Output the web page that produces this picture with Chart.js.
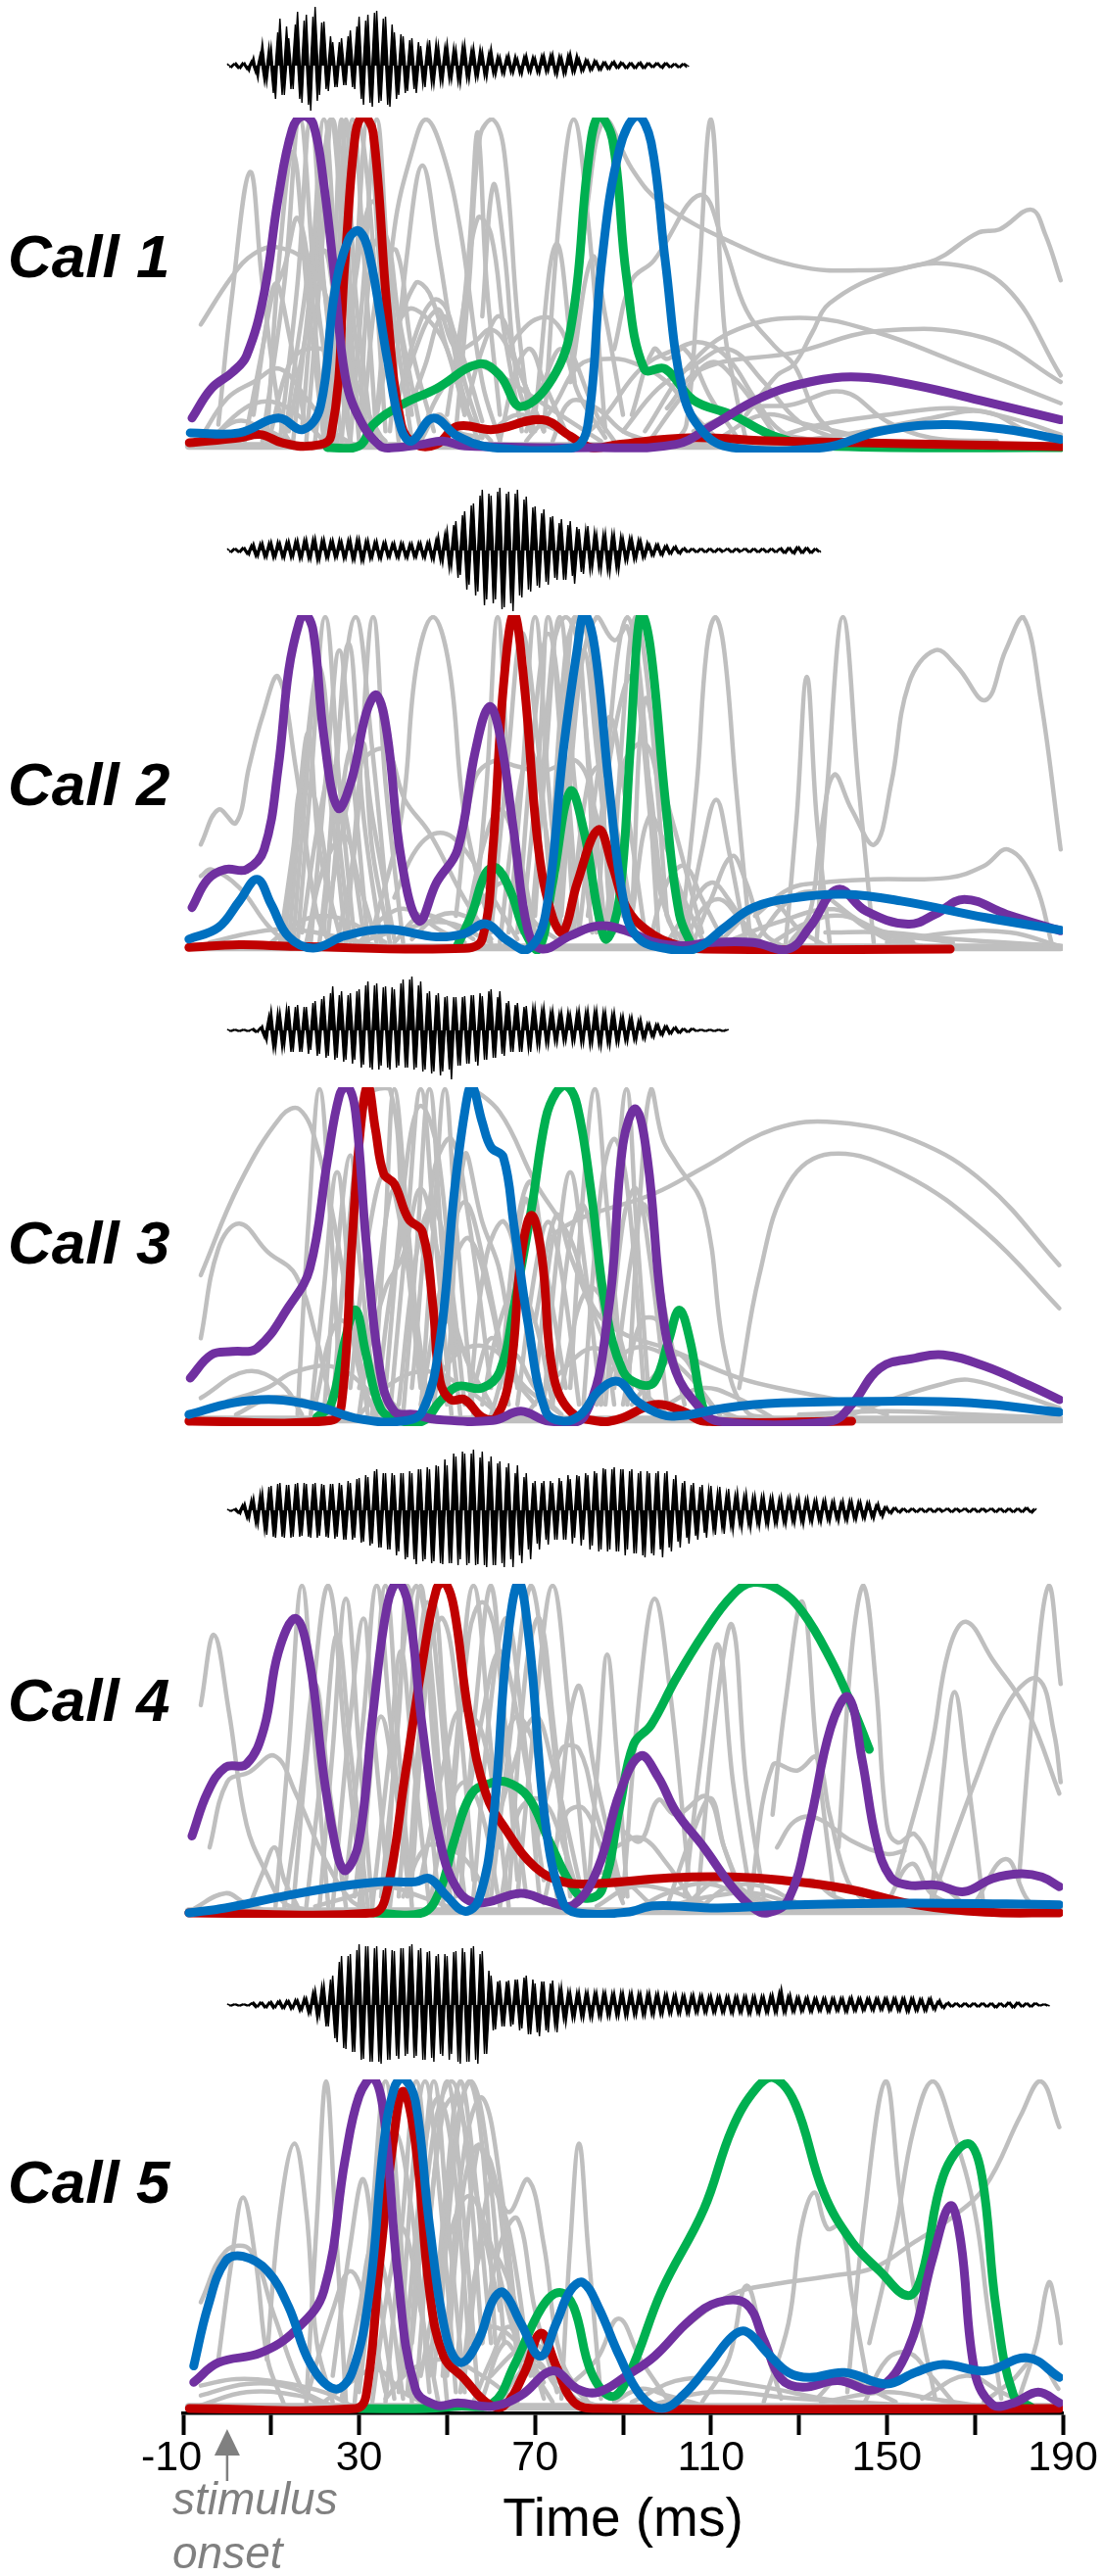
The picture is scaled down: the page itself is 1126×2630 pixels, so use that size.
<!DOCTYPE html>
<html><head><meta charset="utf-8">
<script src="https://cdn.jsdelivr.net/npm/chart.js@4/dist/chart.umd.js"></script>
<style>
html,body{margin:0;padding:0;background:#fff;width:1126px;height:2630px;overflow:hidden;font-family:"Liberation Sans",Arial,sans-serif}
canvas{position:absolute;left:0}
.t{position:absolute;line-height:1;white-space:nowrap}
.call{font-weight:bold;font-style:italic;font-size:62px;color:#000;left:8px}
.onset{font-style:italic;font-size:46px;color:#808080;left:176px}
</style></head><body>
<div id="root"></div>
<script>
const callNames=['Call 1','Call 2','Call 3','Call 4','Call 5'];
const xTickLabels=['-10  ','','30','','70','','110','','150','','190'];
const xTitle='Time (ms)';
const onsetLines=['stimulus','onset'];
const onsetTime=0;

const wave1=[2,-2,3,-3,3,-6,9,-14,24,-18,20,-34,48,-30,28,-24,55,-38,52,-46,60,-30,45,-26,24,-22,28,-20,36,-24,50,-40,52,-42,56,-36,50,-42,34,-30,30,-26,28,-28,20,-22,26,-20,22,-18,24,-16,18,-20,23,-16,20,-13,16,-14,19,-11,10,-10,12,-9,8,-10,12,-8,9,-9,12,-7,13,-11,10,-9,14,-8,8,-6,6,-5,5,-5,4,-4,5,-3,3,-3,3,-3,4,-3,3,-2,3,-3,3,-2,2,-2,2,-1];
const wave1b=[-2,2,-3,3,-4,5,-8,12,-18,20,-28,34,-30,40,-24,42,-34,46,-40,50,-36,44,-24,30,-22,24,-20,30,-22,40,-34,46,-38,54,-38,48,-40,42,-34,32,-28,26,-24,24,-20,22,-20,24,-18,20,-16,20,-18,21,-15,17,-14,18,-12,14,-10,11,-9,10,-8,11,-9,10,-7,10,-8,11,-8,12,-9,11,-10,12,-8,12,-7,7,-6,6,-5,4,-4,4,-3,4,-3,3,-3,3,-3,3,-2,3,-2,3,-2,2,-2,2,-2];
const wave2=[2,-2,2,-2,3,-5,8,-7,9,-8,10,-8,9,-9,11,-8,12,-9,13,-10,14,-11,13,-9,12,-8,11,-9,13,-11,13,-12,12,-9,11,-10,10,-8,9,-9,8,-9,8,-8,9,-9,10,-11,16,-14,22,-18,30,-25,40,-35,48,-42,62,-50,56,-50,64,-58,60,-62,62,-48,55,-42,45,-38,42,-35,35,-30,32,-30,30,-34,22,-24,25,-20,18,-22,19,-24,18,-22,14,-12,14,-10,12,-8,7,-6,7,-6,6,-4,5,-4,3,-2,2,-2,2,-2,2,-2,2,-1,2,-2,2,-1,2,-2,2,-2,2,-2,2,-2,3,-3,3,-4,4,-3,3,-3,2,-2];
const wave2b=[-2,2,-2,3,-4,6,-7,8,-8,9,-9,10,-8,10,-9,11,-10,12,-10,13,-12,12,-9,11,-9,12,-10,12,-11,13,-12,11,-10,10,-9,9,-8,8,-8,9,-8,8,-8,9,-8,9,-10,12,-12,18,-20,26,-28,36,-40,46,-46,56,-56,58,-54,60,-60,58,-54,58,-46,52,-40,44,-36,38,-32,34,-28,28,-30,26,-26,24,-22,22,-22,20,-20,18,-22,18,-20,16,-12,14,-11,12,-9,9,-6,7,-5,5,-4,4,-3,2,-2,2,-2,2,-2,2,-2,2,-2,2,-2,2,-2,2,-2,2,-2,2,-2,2,-2,2,-3,3,-3,4,-3,3,-3,2,-2];
const wave3=[1,-1,1,-1,1,-1,2,-2,5,-12,22,-20,20,-18,25,-22,26,-22,24,-20,30,-24,35,-26,45,-28,40,-30,38,-30,42,-35,50,-40,48,-36,45,-40,42,-36,52,-38,55,-38,50,-40,40,-42,38,-42,35,-50,34,-36,35,-34,36,-36,35,-30,42,-28,40,-26,30,-22,28,-22,25,-22,24,-18,25,-16,22,-14,20,-12,18,-12,22,-14,22,-15,22,-18,20,-17,20,-14,16,-13,15,-12,13,-10,8,-8,7,-6,5,-4,4,-3,2,-2,2,-1,1,-1,1,-1,1,-1,1];
const wave3b=[-1,1,-1,1,-1,1,-2,3,-8,16,-20,20,-20,23,-22,24,-22,24,-24,28,-26,32,-28,38,-30,36,-32,36,-34,40,-38,46,-38,46,-40,44,-38,44,-38,48,-38,52,-40,46,-42,38,-44,36,-46,34,-40,34,-36,34,-34,36,-32,38,-30,40,-28,34,-24,28,-22,26,-22,24,-20,24,-17,22,-15,20,-13,18,-13,20,-14,20,-15,20,-17,21,-16,20,-15,18,-14,15,-12,14,-11,11,-9,8,-7,7,-5,5,-4,3,-3,2,-2,2,-1,1,-1,1,-1,1,-1,1];
const wave4=[1,-1,2,-4,8,-10,14,-16,20,-25,25,-28,28,-28,26,-27,28,-26,27,-28,28,-26,26,-28,27,-27,26,-30,28,-28,33,-32,34,-34,42,-38,38,-40,36,-42,38,-48,38,-55,42,-50,42,-52,45,-55,46,-54,55,-50,58,-54,62,-55,60,-58,55,-56,50,-58,48,-58,46,-54,38,-50,30,-40,30,-35,28,-30,30,-30,32,-28,35,-30,36,-36,38,-40,42,-40,44,-42,42,-40,42,-44,40,-48,38,-46,40,-48,40,-42,36,-38,30,-34,28,-30,26,-28,25,-25,24,-24,22,-22,20,-20,19,-20,16,-18,16,-17,15,-15,15,-16,14,-15,14,-16,13,-14,12,-14,12,-13,11,-13,11,-12,11,-11,10,-10,9,-10,8,-8,4,-4,3,-3,2,-2,2,-2,2,-2,2,-2,2,-1,2,-2,2,-1,2,-2,2,-2,2,-1,2,-2,2,-2,2,-2,2,-2,3,-3,2];
const wave4b=[-1,1,-3,6,-9,12,-15,18,-22,24,-27,27,-27,26,-28,27,-27,28,-27,27,-28,27,-27,27,-29,28,-30,30,-30,32,-33,36,-36,40,-38,38,-40,38,-46,38,-50,40,-50,42,-52,44,-54,46,-54,52,-54,58,-56,60,-56,58,-56,54,-56,50,-56,48,-54,44,-50,38,-46,34,-40,28,-34,28,-30,30,-30,33,-30,36,-34,36,-36,38,-40,40,-42,43,-42,42,-42,42,-46,40,-44,38,-46,40,-44,38,-40,38,-38,32,-32,28,-28,26,-26,24,-23,22,-21,20,-19,18,-18,17,-16,16,-16,15,-15,15,-15,14,-15,13,-14,13,-13,12,-13,12,-12,11,-12,11,-11,10,-10,9,-11,11,-10,10,-9,9,-8,6,-5,4,-3,3,-2,2,-2,2,-2,2,-2,2,-2,2,-2,2,-2,2,-2,2,-2,2,-2,2,-2,2,-2,2,-2,2,-2,2,-2,3,-2,2];
const wave5=[1,-1,1,-1,1,-1,3,-2,3,-3,4,-3,5,-4,5,-4,6,-6,8,-9,17,-12,22,-22,30,-38,50,-45,52,-48,62,-55,60,-58,60,-60,58,-56,55,-55,58,-50,62,-52,58,-56,55,-58,52,-52,50,-50,55,-60,54,-58,60,-60,55,-50,30,-25,25,-22,25,-20,26,-24,30,-30,22,-32,24,-28,25,-28,20,-20,15,-15,15,-15,14,-15,14,-14,14,-13,14,-13,14,-13,14,-12,13,-12,14,-12,13,-11,12,-10,12,-10,11,-10,12,-9,11,-9,11,-9,10,-9,10,-10,10,-9,10,-10,10,-10,10,-9,12,-9,18,-9,12,-8,9,-7,9,-8,8,-7,8,-8,8,-7,8,-8,9,-7,8,-6,8,-7,8,-6,8,-6,8,-7,8,-8,8,-7,7,-7,8,-6,6,-4,3,-2,2,-2,2,-2,2,-2,2,-2,2,-3,2,-2,3,-3,3,-2,2,-2,2,-1,1,-1];
const wave5b=[-1,1,-1,1,-1,2,-3,3,-3,3,-4,4,-4,5,-5,6,-7,8,-10,14,-16,20,-22,26,-34,44,-44,50,-48,56,-56,60,-58,58,-58,56,-56,56,-52,58,-52,60,-54,56,-56,54,-54,50,-50,52,-56,54,-58,58,-58,58,-56,52,-50,35,-26,24,-22,24,-22,26,-26,28,-30,26,-28,24,-26,22,-22,18,-16,15,-15,14,-14,14,-14,14,-13,14,-13,13,-13,14,-13,13,-12,13,-12,13,-11,12,-11,12,-10,11,-10,11,-10,11,-9,11,-9,10,-9,10,-9,10,-9,10,-9,10,-10,10,-9,10,-9,11,-9,14,-9,10,-8,9,-8,8,-8,8,-7,8,-8,8,-7,8,-8,8,-7,8,-7,8,-6,8,-6,8,-7,8,-7,8,-8,8,-7,7,-7,7,-5,4,-3,2,-2,2,-2,2,-2,2,-2,2,-2,2,-3,2,-2,3,-3,3,-2,2,-2,2,-1,1,-1];

const call1Purple=[-8,.09,-3.6,.18,1.2,.23,4.4,.28,8.4,.47,11.6,.76,14.8,.97,17.2,1.01,19.6,.985,22,.8,24.4,.52,26.8,.22,30,.09,34.8,.005,38,0,44.4,.01,49,.02,54,.005,84.4,0,102,.01,110,.065,121,.15,132.4,.2,143.6,.215,156.4,.19,172.4,.14,189.5,.085];
const call1Red=[-8.6,.015,2.8,.03,7.6,.04,12.4,.015,18.8,.005,23.6,.035,26.8,.57,29.2,.96,31,1.01,33.2,.96,36.4,.42,39.6,.07,42.8,.01,47.6,.01,52.4,.065,60.4,.055,71.6,.085,78,.035,82.8,0,89,.01,105,.03,124.4,.02,189.5,.003];
const call1Green=[22.8,0,30,.005,33.2,.07,39.6,.13,47.6,.18,57.2,.255,62,.22,66.8,.125,74.8,.23,78.8,.42,82,.86,84.4,1.01,87.6,.94,90.8,.52,94.8,.24,99.6,.24,106,.145,114.8,.1,124.4,.035,135.6,.005,189.5,0];
const call1Blue=[-8.4,.045,2.8,.045,11.6,.09,17.2,.055,21.2,.125,24.4,.47,27.6,.635,30,.66,32.4,.585,36.4,.27,39.6,.055,42,.02,46.8,.09,52.4,.035,60.4,0,78.8,0,82,.07,85.2,.57,89.2,.91,93.2,1.01,96.4,.93,99.6,.57,103.6,.17,108.4,.045,114.8,0,135.6,0,148.4,.05,162.8,.07,177.2,.055,189.5,.025];
const call1Gray=[
[-6,.375,1,.52,6,.59,11.6,.61,18.8,.555,25,.37,31.6,.12,36.4,0],
[-2,.07,1,.45,5.2,.84,8,.5,12.4,.07,15,0],
[78,.2,82,.75,86,1,92,.85,98.8,.745,114.8,.625,129,.555,143.6,.54,159.6,.565,170.8,.655,175.6,.665,182.8,.725,186,.65,189.5,.51],
[118,.1,125,.22,129,.255,133,.35,137,.44,150,.53,164,.56,177,.49,189.5,.22],
[95,.05,105,.25,116,.36,132,.395,148,.35,164,.27,189.5,.135],
[100,.12,108,.24,129,.29,148,.355,172,.335,189.5,.2],
[102,.02,104.4,.07,107,.47,110,1,113,.37,115.6,.17,118,.02],
[88,.3,92,.51,97,.57,107.6,.77,113,.615,118,.42,124.4,.31,129,.25,134,.1,140,.02],
[34,.1,38,.665,42,.9,45.2,1,49,.9,53,.665,58,.2,62,.02],
[37,.05,41,.6,44.4,.86,48,.6,53,.2,57,.02],
[52,.05,55,.5,57.5,.95,60.4,1,63,.9,66,.4,69,.05],
[52,.2,55,.6,57,.96,59,.5,62,.1],
[58,.4,60.5,.8,63,.6,66,.2,70,.05],
[72,.05,75.5,.7,78.8,1,82,.7,86,.05],
[70,.1,74.8,.62,79,.2],
[78,.2,83,.58,86,.4,90,.1],
[64,.3,66,.34,70,.39,74,.39,78,.3,84,.1,88,.02],
[40,.2,47.6,.42,52,.3,56,.32,60,.36,64,.3,72,.05],
[36,.25,42.8,.5,46,.47,50,.3,55,.1,60,.02],
[6,.1,10,.45,13,.55,16,.7,19,.5,22,.1,25,0],
[8,.02,13,.5,16.5,1,20,.5,25,.02],
[12,.02,16,.5,19,1,22,.5,26,.02],
[15,.02,19,.5,22,1,25,.5,28,.02],
[18,.02,21,.5,24,1,27,.5,30,.02],
[20,.02,24,.5,26,1,28,.5,32,.02],
[22,.02,25,.5,27,1,29,.5,33,.02],
[23,.02,26,.6,28.5,1,31,.6,34,.02],
[26,.02,29,.5,32,1,35,.5,39,.02],
[28,.02,31,.5,34,1,37,.5,42,.02],
[30,.05,33,.6,36,.65,39,.4,44,.05],
[14,.05,18,.35,22,.6,25,.4,30,.1],
[10,.05,14,.25,18,.3,24,.28,30,.1,36,.02],
[-6,.03,0,.15,6,.2,12,.24,18,.15,24,.05,30,0],
[-4,.02,4,.12,10,.14,16,.1,22,.02],
[44,.05,50,.2,56,.25,62,.22,70,.15,78,.08,85,.02],
[68,.02,74,.12,80,.25,86,.27,92,.26,100,.2,106,.1,112,.02],
[80,.02,86,.1,94,.24,102,.3,108,.32,114,.27,120,.15,126,.05,134,.02],
[90,.05,98,.18,106,.25,114,.3,122,.2,130,.08,140,.02],
[106,.05,118,.12,128,.13,140,.17,150,.08,160,.03,175,.02],
[122,.02,135,.07,150,.1,165,.12,178,.09,189.5,.04],
[130,.02,145,.05,160,.09,172,.11,182,.05,189.5,.02],
[60,.05,66,.1,72,.07,80,.02],
[44,.02,48,.1,52,.05,58,.03],
[4,.02,8,.3,11,.5,14,.35,18,.05],
[9,.02,12,.6,15,.9,18,.5,22,.02],
[13,.02,17,.4,20,.62,23,.4,28,.02],
[17,.05,21,.7,23.5,1,26,.7,30,.05],
[24,.05,27,.8,29.5,1,32,.8,36,.05],
[25,.1,29,.5,33,.75,37,.55,42,.1],
[31,.1,35,.55,38.5,.6,42,.3,47,.05],
[33,.02,37,.3,41,.42,45,.4,50,.3,54,.1],
[38,.1,43,.35,47,.45,50,.42,54,.2,58,.03],
[41,.1,45,.25,49,.4,53,.3,58,.08],
[50,.1,54,.45,57,.7,60,.65,63,.35,67,.05],
[54,.1,58,.3,62,.4,66,.25,72,.05],
[62,.02,66,.25,69,.3,72,.2,78,.02],
[68,.05,72,.2,76,.3,80,.16,86,.03],
[74,.02,78,.14,84,.12,90,.05,96,.02],
[92,.1,97,.3,100,.27,104,.3,110,.15,116,.03],
[96,.02,103,.15,110,.26,116,.2,124,.05],
[112,.03,122,.1,132,.07,145,.03],
[-5,.01,2,.08,8,.06,14,.02]
];

const call2Purple=[-8,.125,-4.4,.21,-.4,.24,4.4,.24,8.4,.3,11.6,.545,14,.84,16.4,.985,17.7,1.01,19.6,.955,22,.64,25.2,.425,28.4,.515,31.6,.71,34,.765,36.4,.645,39.6,.27,43.6,.085,47.6,.2,52.4,.3,56.4,.595,59.6,.73,62,.645,65.2,.35,68.4,.055,71.6,0,78,.04,84.4,.07,90.8,.055,97.2,.02,103.6,.01,110,.02,119.6,.02,127.6,0,132.4,.065,138.8,.18,145.2,.115,154.8,.075,161,.105,167.6,.15,177.2,.105,189.5,.055];
const call2Red=[-8.7,.005,2.8,.013,15.6,.008,54,.002,58,.03,60.4,.3,62.8,.79,65.2,1.01,67.6,.79,70.8,.3,74,.095,76.4,.05,79.6,.2,84.4,.36,87.6,.25,90.8,.125,95.6,.055,102,.013,108.4,0,164.4,0];
const call2Green=[52.4,.012,55.6,.105,58.8,.23,61.2,.245,64.4,.175,67.6,.055,70.8,0,74,.2,78,.475,81.2,.35,84.4,.105,86.3,.03,89.2,.155,91.6,.595,93.2,.935,94.3,1.01,96.4,.89,99.6,.45,102.8,.105,106,0];
const call2Blue=[-8.7,.03,-2,.065,2.8,.145,6.8,.21,10,.135,14,.037,19.6,.003,26.8,.04,36.4,.06,47.6,.037,54,.047,58.8,.076,63.6,.027,68.4,0,72.4,.105,76.4,.595,79.6,.905,81.2,1.01,83.6,.905,86.8,.495,90,.155,93.2,.037,100.4,0,106.8,.003,113.2,.066,119.6,.125,129.2,.155,140.4,.165,153.2,.145,172.4,.095,189.5,.057];
const call2Gray=[
[-6,.315,-2,.42,2,.38,5,.55,8,.7,11.6,.82,15.6,.545,20.4,.105,23.6,.01],
[-6,.22,-3.6,.24,2.8,.185,9,.075,14,.01],
[16,.02,19,.5,22.3,1,25.5,.5,29,.02],
[22,.05,25,.6,29.2,1,33,.6,37,.05],
[27,.02,30,.5,33.2,1,36,.5,40,.02],
[21,.02,24,.4,27.6,.92,31,.4,35,.02],
[15,.02,18,.5,20,.75,23,.5,27,.02],
[13,.02,16,.4,18.5,.65,21,.3,26,.02],
[18,.02,22,.25,26.8,.34,30,.2,34,.02],
[24,.2,30,.55,36,.6,40.4,.45,46,.35,54,.15,60,.03],
[33,.05,39.6,.4,43,.85,46.8,1,50.5,.85,54,.4,60,.05],
[38,.155,43,.3,48.4,.35,54,.3,60.4,.155,66,.03],
[38,.02,44,.1,50,.08,56,.03],
[52,.1,56,.5,60.4,.565,66,.55,71.6,.535,79.6,.565,84,.4,90,.1],
[56,.05,59,.5,61.5,1,64,.5,67,.05],
[64,.05,67,.5,70,1,73,.5,76,.05],
[67,.05,71,.6,73,1,76,.6,79,.05],
[69,.05,72,.5,75.6,1,79,.5,83,.05],
[72,.05,76,.6,79,1,82,.6,86,.05],
[76,.1,80,.8,84,1,88,.93,91,.97,94,.7,98,.2,102,.03],
[80,.05,84,.5,87,.7,90,.5,95,.05],
[82,.1,88,.65,92,.82,96,.5,100,.1,104,.02],
[86,.05,90,.55,94.8,.62,98,.5,102,.2,106,.03],
[92,.1,95,.75,99,.5,103,.3,108,.05],
[103,.02,106.8,.5,109,.9,111,1,113,.9,115.6,.5,119,.02],
[104,.02,108,.3,111.2,.45,114,.3,118,.02],
[106,.02,110,.15,114.8,.28,118,.2,122,.05,126,.01],
[100,.02,105,.12,110,.2,114,.15,120,.02],
[127,.02,129.5,.4,131.8,.82,134,.4,137,.02],
[134,.02,136.5,.5,140,1,143.5,.5,147,.02],
[128,.02,132.4,.105,135,.35,138,.525,142,.42,147.2,.315,151,.5,155,.8,161,.9,166,.85,172.4,.75,177,.9,181,1,185,.75,189.5,.3],
[120,.1,127.6,.18,135,.2,147,.21,164,.215,172,.25,177.6,.3,183.6,.2,187.6,.01],
[120,.02,128,.15,134,.17,142,.1,150,.03,158,.01],
[136,.05,150,.05,165,.03,189,.01],
[115,.03,125,.08,138,.12,146,.06,156,.02],
[-4,.02,6,.05,14,.06,24,.04,34,.01],
[30,.02,40,.06,50,.08,60,.02],
[12,.02,15,.3,17,.5,20,.45,24,.1],
[14,.02,18,.6,21,.85,24,.5,28,.02],
[17,.05,21,.4,24,.55,27,.4,31,.05],
[19,.02,23,.6,25.5,.9,28,.6,32,.02],
[23,.05,27,.55,30,.65,33,.4,38,.03],
[25,.02,29,.3,31,.62,33,.3,37,.02],
[10,.02,16,.08,22,.1,28,.08,36,.02],
[30,.02,36,.1,41,.12,48,.06,54,.02],
[42,.03,48,.1,54,.1,60,.03],
[54,.05,58,.3,62,.42,66,.3,70,.05],
[60,.05,64,.6,67,.95,70,.7,74,.1],
[62,.02,66,.45,69,.6,72,.4,76,.02],
[66,.05,70,.7,73,.95,76,.7,80,.05],
[70,.1,74,.9,77,1,80,.9,84,.1],
[73,.1,77,.9,80,1,83,.85,87,.1],
[75,.05,78,.6,81,.9,84,.6,88,.05],
[78,.05,82,.5,85,.55,88,.4,93,.03],
[84,.05,88,.8,91,1,94,.8,98,.05],
[87,.05,91,.85,93,1,96,.75,100,.1],
[92,.1,96,.4,100,.3,103,.18,108,.03],
[96,.02,100,.2,104,.25,108,.15,113,.02],
[104,.02,108,.12,112,.15,116,.1,122,.01],
[112,.02,118,.1,124,.14,130,.06,136,.01],
[124,.02,132,.08,140,.1,150,.05,165,.02],
[150,.02,165,.05,178,.05,189,.01],
[52,.03,58,.15,64,.2,70,.08,76,.02]
];

const call3Purple=[-8.4,.13,-3.6,.2,1.2,.21,6.8,.22,14,.345,18.8,.46,22.8,.785,25.5,.98,27.3,1.01,29.2,.93,31.6,.54,34.8,.15,38,.03,42.8,.02,47.6,.005,60.4,.002,66.8,.03,73.2,0,81.2,.015,86.8,.345,90,.835,92.9,.94,95.6,.785,98.8,.345,102,.15,106.8,.05,111.6,0,137.2,0,142,.05,148.4,.16,156.4,.19,162.8,.2,172.4,.165,182,.11,189.2,.065];
const call3Red=[-8.7,0,23.6,.002,26,.05,28.4,.54,30.3,.88,32,1.01,33.7,.88,35.6,.745,38,.715,41.2,.61,44.4,.57,46.8,.345,48.4,.12,50.8,.065,54,.065,58,.012,61.2,.012,64.4,.15,66.8,.49,69.2,.62,71.6,.49,74,.15,78,.03,84.4,0,89.2,.007,97.2,.05,103.6,.03,108.4,0,142,0];
const call3Green=[20.4,.012,23.6,.05,26.8,.245,29.2,.335,31.6,.2,34.8,.04,38,.007,44.4,0,48.4,.06,52.4,.105,58,.1,62,.15,65.2,.345,69.2,.64,72.4,.91,74.8,.99,77.2,1.01,79.6,.95,82.8,.685,86,.345,90,.15,94,.11,97.2,.12,100.4,.245,102.8,.335,105.2,.245,107.6,.07,109.2,0];
const call3Blue=[-8.7,.02,1.2,.055,10.8,.065,20.4,.045,30,.007,39.6,0,44.4,.03,48.4,.245,51.6,.685,54,.93,55.6,1.01,58,.9,60,.825,62.8,.795,65.2,.59,68.4,.295,72.4,.03,76.4,0,80.4,.02,84.4,.09,88.9,.12,93.2,.06,98.8,.02,103.6,.017,113.2,.04,126,.055,148.4,.06,169.2,.055,189.2,.027];
const call3Gray=[
[-6,.44,2.8,.715,12.4,.92,16.4,.94,20.4,.83,25,.55,30,.15,34,.01],
[-6,.25,-2,.52,2.8,.595,9.2,.51,15.6,.44,20.4,.245,24,.05,27,.01],
[-6,.07,4.4,.15,12.4,.11,17,.02],
[0,.06,9,.1,15.6,.15,25.2,.16,34.8,.06,40,.01],
[2,.02,10,.07,18,.06,24,.01],
[70,.1,74,.55,76,.58,82,.62,97,.685,108.4,.765,124.4,.88,138.8,.9,156.4,.845,172.4,.715,189.2,.47],
[116.4,.1,121,.44,127.6,.715,137.2,.805,153.6,.745,172.4,.57,189.2,.34],
[16,.02,18.5,.6,21,1,23.5,.6,26,.02],
[24,.05,27,.5,32,.98,37,1,40,.6,44,.1],
[33,.02,36,.6,38,1,41,.6,45,.02],
[37,.02,41,.6,44,1,47,.6,51,.02],
[40,.02,43,.5,46,1,49,.5,53,.02],
[44,.02,47,.6,49.5,1,52,.6,56,.02],
[30,.1,36,.4,40,.5,44,.7,48,.5,54,.2,60,.05],
[44,.05,50,.5,54,.66,58,.5,64,.1],
[50,.3,55,1,62,.93,70,.72,78,.55,83,.35,89.2,.27,100.4,.217,116.4,.13,129,.09,140.4,.06,150,.02],
[64,.2,67.6,.665,71,.5,74,.15],
[70,.3,74.8,.62,78,.5,84,.3,90,.1],
[72,.05,75,.5,78,.75,81,.5,85,.05],
[78,.1,81,.7,83.6,1,86,.7,90,.1],
[85,.05,88,.6,90.8,1,93,.6,96,.05],
[91,.05,94,.7,96.4,1,99,.85,102,.78,108.4,.64,113.2,.2,118,.03,124,.01],
[88,.1,92,.5,95,.65,100,.3,104,.05],
[84,.05,90,.2,96,.22,104,.15,112,.02],
[100,.05,108,.1,116,.07,124,.01],
[142,.02,152,.07,162,.11,168.4,.125,178,.09,189.2,.04],
[130,.02,150,.03,170,.02,189,.01],
[20,.05,25,.3,30,.25,35,.1,40,.02],
[56,.1,60,.25,64,.15,70,.05],
[60,.02,65,.2,70,.1,76,.02],
[19,.02,22,.4,25,.75,28,.4,32,.02],
[22,.02,25,.5,28,.8,30,.5,34,.02],
[28,.1,32,.55,36,.75,40,.55,45,.1],
[30,.02,34,.4,38,.7,42,.4,46,.02],
[34,.05,38,.45,42,.6,46,.4,50,.05],
[36,.1,41,.8,44,.95,48,.8,52,.2],
[39,.05,43,.5,46.5,.65,50,.5,54,.05],
[42,.1,47,.75,51,.85,55,.6,60,.1],
[47,.05,51,.45,55,.55,60,.35,64,.05],
[50,.1,54,.8,58,.6,62,.45,66,.1],
[55,.05,59,.5,63,.6,67,.4,72,.05],
[58,.05,62,.3,66,.4,70,.3,74,.05],
[62,.1,66,.6,69,.72,72,.5,77,.1],
[66,.05,70,.45,73,.6,76,.45,80,.05],
[74,.05,78,.55,81,.65,84,.45,88,.05],
[76,.1,82,.4,88,.3,92,.1],
[81,.05,85,.7,88,.85,91,.7,95,.05],
[86,.05,90,.6,93,.7,96,.5,100,.05],
[90,.05,94,.3,98,.3,104,.1,110,.02],
[92,.05,98,.15,103,.2,110,.05,116,.01],
[30,.02,38,.12,46,.15,54,.1,62,.02],
[44,.02,52,.2,60,.22,68,.1,76,.02],
[68,.02,76,.15,84,.22,92,.12,100,.02]
];

const call4Purple=[-8,.235,-4.4,.37,-.4,.445,4.4,.455,8.4,.565,11.6,.795,15.6,.9,18.8,.765,22,.415,25.2,.17,27,.13,30,.22,33.2,.615,36.4,.94,38.8,1.01,41.2,.94,44.4,.565,48.4,.22,52.4,.07,57.2,.03,66.8,.06,73.2,.035,78.8,.025,84.4,.14,89.2,.365,94,.48,98,.415,102,.31,108.4,.2,114.8,.08,119.6,.015,122.8,0,127.6,.04,132.4,.27,137.2,.565,141.2,.66,144.4,.465,147.6,.22,150.8,.11,154.8,.085,161.2,.085,167.6,.065,174,.105,180.4,.12,185.2,.11,189.2,.08];
const call4Red=[-8.7,0,33.2,0,36.4,.07,40.4,.415,44.4,.765,47.6,.99,49.5,1.01,51.6,.93,54.8,.615,58.8,.365,63.6,.25,70,.14,76.4,.095,84.4,.09,100.4,.107,114.8,.11,126,.1,140.4,.075,156.4,.025,172.4,.002,189.2,0];
const call4Green=[33,0,44.4,0,48.4,.07,51.6,.22,55.6,.365,59.6,.395,63.6,.4,68.4,.355,73.2,.22,78,.09,81.2,.045,85.2,.07,89.2,.32,92.4,.515,96.4,.575,102,.715,108.4,.855,114.8,.97,119.6,1.01,125.2,.99,130.8,.92,137.2,.775,142,.635,146,.5];
const call4Blue=[-8.7,0,-.4,.015,12.4,.05,25.2,.08,34.8,.095,42.8,.095,46,.105,50,.05,54,.005,57.2,.04,60.4,.27,63.6,.815,66.3,1.01,68.8,.815,72.4,.27,76.4,.03,79.6,0,90.8,.002,97.2,.022,111.6,.015,129.2,.025,156.4,.03,189.2,.025];
const call4Gray=[
[-6,.635,-3,.85,.4,.615,4.4,.27,9,.12,13,.03,18,.01],
[-4,.2,0,.4,5,.43,10.8,.48,15.6,.365,22,.17,28,.04,32,.01],
[-8,.01,-.4,.06,4,.03,8,.01],
[5,.02,8,.12,10.8,.2,13,.1,16,.02],
[11,.02,14,.5,17,1,20,.5,23,.02],
[15,.02,19,.6,23,1,27,.5,31,.02],
[21,.02,24,.5,27,.96,30,.5,33,.02],
[27,.1,31,.6,34,1,37,.6,41,.1],
[30,.02,33,.5,36,1,39,.5,42,.02],
[35,.05,39,.6,41,1,44,.6,48,.05],
[37,.02,41,.5,44,1,47,.5,51,.02],
[41,.05,44,.6,47,.95,50,.5,54,.05],
[40,.05,45,.2,50,.2,55,.15,60,.03],
[49,.02,52,.5,56,1,60,.5,64,.02],
[53,.05,57,.7,60,1,63,.6,68,.05],
[52,.1,58,.6,62,.8,66,.6,72,.1],
[60,.05,64,.5,69,1,72.6,.7,77,.2,80,.05],
[66,.05,70,.6,74,1,77.8,.6,82,.05],
[58,.1,64,.4,70,.6,74,.45,80,.1],
[74,.1,79.6,.69,84,.4,90,.05],
[70,.2,76,.5,80,.5,84,.3,90,.05],
[82,.05,84.5,.5,86.4,.79,88.5,.5,91,.05],
[90,.05,94,.7,97.2,.96,100.5,.7,105,.1],
[90,.25,94,.22,98,.345,102,.3,109,.355,113,.2,118,.03],
[88,.2,94,.23,100,.15,106,.03],
[104,.05,108,.5,111.6,.82,115,.4,119,.05],
[107,.05,111,.6,114.8,.88,118,.4,122,.05],
[119,.05,124,.45,129.6,.435,134,.475,137,.3,141,.1,146,.02],
[124,.3,127,.65,130.8,.95,134,.5,138,.05],
[125,.2,129,.28,134,.29,142,.22,150,.18,154,.19],
[139,.2,142,.8,144.7,1,147.5,.7,150,.27,152.4,.215,156.4,.24,162,.1,168,.02],
[160,.02,163,.45,165.4,.675,168,.45,172,.02],
[152,.1,160,.5,164,.8,168,.89,174,.775,182,.615,189.2,.365],
[160,.03,170,.4,178,.65,184.4,.715,188,.55,189.5,.4],
[180,.1,183,.6,186.8,1,189.5,.7],
[150,.03,155.6,.15,160,.06,166,.02],
[170,.03,177,.165,182,.04,186,.01],
[94,.02,100,.06,108,.09,116,.06,124,.01],
[100,.02,110,.05,120,.06,130,.02],
[13,.02,17,.4,20,.7,23,.4,27,.02],
[18,.02,22,.5,25,.85,28,.5,32,.02],
[24,.02,28,.6,31,.9,33,.6,37,.02],
[29,.05,32,.4,35,.6,38,.4,42,.05],
[33,.02,37,.5,39.5,.8,42,.5,46,.02],
[36,.05,40,.8,43,1,46,.8,50,.05],
[39,.05,43,.7,45.5,.95,48,.7,52,.05],
[42,.1,46,.8,49,.9,52,.7,56,.1],
[44,.1,50,.5,53,.62,58,.55,62,.2],
[46,.02,50,.3,54,.4,58,.3,62,.02],
[50,.1,55,.85,58,.95,61,.85,66,.1],
[56,.05,60,.65,63.5,.9,67,.6,71,.05],
[59,.05,63,.5,66,.6,70,.5,75,.05],
[62,.02,66,.3,70,.35,74,.3,80,.03],
[64,.05,68,.75,71,.9,74,.6,78,.05],
[72,.03,77,.3,81,.32,85,.2,90,.03],
[78,.02,84,.12,90,.1,96,.03],
[84,.02,92,.08,100,.07,108,.03],
[100,.02,106,.25,110,.35,113,.2,118,.02],
[104,.02,112,.1,120,.05,128,.01],
[108,.02,114,.08,122,.08,130,.03,138,.01],
[125,.02,132,.1,138,.05,146,.01],
[20,.02,28,.05,36,.08,44,.05,52,.01]
];

const call5Purple=[-7.6,.08,-2,.14,7.6,.17,15.6,.24,22,.36,26.8,.76,30,.955,33.2,1.01,35.6,.9,38.8,.41,42.8,.06,47.6,.01,52.4,.017,60.4,.007,66.8,.04,74,.115,79.6,.06,84.4,.05,90.8,.1,97.2,.16,105.2,.27,111.6,.325,118,.32,122,.21,126,.09,130.8,.065,138.8,.085,147.6,.06,154.8,.18,160.4,.46,164.4,.62,166.8,.51,170,.11,174,.012,178.8,.017,184.4,.05,189.2,.017];
const call5Red=[-8.6,0,29.2,0,31.6,.04,34.8,.46,37.7,.81,40,.97,42.8,.81,46,.36,49.2,.16,54,.09,58.8,.02,62.8,.007,67.6,.11,71.3,.23,74.8,.13,78.8,.02,84.4,0,189.2,0];
const call5Green=[30,0,45,0,52.4,.007,60.4,.017,65.2,.13,71.6,.31,75.6,.355,78.8,.31,82.8,.11,87.6,.037,91.6,.11,98.8,.36,108.4,.61,114.8,.855,120.4,.98,124.4,1.01,129.2,.93,135.6,.66,142,.51,148.4,.42,154.8,.345,158,.41,162.8,.71,168.4,.81,171.6,.71,174.8,.31,178.8,.04,182.8,.004];
const call5Blue=[-7.6,.13,-4.4,.31,-.4,.45,3.6,.465,9.2,.42,14,.31,18.8,.14,24.4,.06,28.4,.11,32.4,.36,35.6,.81,38,.98,40,1.01,42.8,.94,46,.56,50,.21,53.2,.14,57.2,.21,60.4,.33,62.8,.355,66.8,.26,71.2,.16,74.8,.26,78,.36,80.9,.385,84.4,.31,89.2,.16,94,.04,98.8,0,103.6,.04,110,.14,114.8,.22,118,.235,122.8,.17,127.6,.11,132.4,.095,140.4,.11,150,.075,156.4,.11,162.8,.135,172.4,.115,182,.155,189.2,.095];
const call5Gray=[
[-6,.325,-.4,.48,5.2,.485,10.8,.28,17,.06,21,.01],
[-2,.15,1,.45,3.6,.645,6.5,.45,9.2,.15,13,.01],
[9,.15,12,.6,15.3,.81,18,.6,20.4,.2,24,.02],
[18,.02,20.5,.6,22.5,1,24.5,.6,27,.02],
[-6,.04,4.4,.075,14,.065,22,.02],
[-6,.01,4.4,.05,16,.04,24,.01],
[-6,.07,2,.09,12,.08,22,.05,28,.01],
[18,.03,24,.3,28,.42,32,.3,36,.05],
[24,.1,28,.5,31,.7,34,.4,38,.03],
[29,.02,33,.6,36,1,39,.6,42,.02],
[36,.02,40,.6,43,1,46,.6,50,.02],
[41,.05,44,.6,47,1,50,.6,54,.05],
[43,.05,47,.7,50,1,53,.7,57,.05],
[46,.1,50,.7,53,1,56,.75,60,.2],
[48,.2,52,.8,55,1,58,.8,61,.2],
[50,.1,53,.6,56.5,.8,60,.75,63,.5,66,.15],
[44,.1,50,.5,55,.65,60,.5,66,.2,72,.05],
[54,.1,60,.7,64,.6,68.4,.7,72,.5,76,.15,82,.02],
[58,.2,62,.5,66,.58,70,.3,75,.05],
[60,.1,66,.18,70,.2,76,.1,82,.02],
[55,.2,60,.25,66,.2,72,.08],
[76,.03,78,.5,80,.81,82,.5,85,.03],
[76,.05,84,.15,89,.275,94,.15,100,.03],
[92.4,.11,105.2,.26,115,.35,124.4,.38,137.2,.405,147,.43,156.4,.51,164.4,.58,172.4,.68,180.4,.895,185,1,189.2,.86],
[108,.02,114,.15,118,.375,122,.2,126,.03],
[122,.02,127.6,.26,130.5,.55,133.5,.66,136.5,.55,139.6,.56,142,.35,146,.05],
[141,.05,145,.6,149.7,1,153,.65,157,.3,161,.03],
[146,.2,152,.55,156,.85,160.4,1,165,.85,170,.6,173,.3,176,.03],
[180,.03,184,.2,186.8,.385,188.5,.3,189.5,.2],
[145,.02,150,.15,155,.17,160,.1,165,.02],
[172,.02,178,.08,184,.15,189,.06],
[92,.02,104,.09,120,.07,140,.02,155,.01],
[96,.01,110,.05,130,.03,155,.01],
[135,.02,150,.05,160,.03,170,.01],
[158,.03,168,.1,176,.05,182,.01],
[26,.03,30,.3,33,.5,36,.4,40,.03],
[30,.05,35,.6,38,.85,42,.6,46,.05],
[33,.02,37,.4,40,.55,44,.3,48,.02],
[39,.05,42,.7,45,1,48,.7,52,.05],
[40,.1,45,.8,48,.95,51,.8,55,.2],
[42,.2,47,.85,51,1,54,.85,58,.2],
[44,.3,49,.9,52,.95,56,.7,62,.3],
[47,.1,52,.85,55.5,1,59,.8,63,.2],
[49,.1,54,.8,58,.95,62,.7,67,.1],
[52,.1,57,.8,60,.7,64,.55,69,.1],
[53,.05,58,.5,62,.45,66,.3,72,.03],
[56,.02,60,.15,64,.25,68,.15,74,.02],
[58,.03,63,.2,67,.15,72,.12,80,.02],
[62,.02,66,.1,70,.15,76,.05,84,.01],
[36,.03,42,.12,50,.15,58,.1,66,.02],
[22,.02,28,.08,34,.12,40,.05,46,.01],
[88,.02,94,.06,100,.04,108,.01],
[134,.03,140,.1,146,.06,152,.02]
];
const floorLine=[-8.7,.005,189.5,.005];

const panels=[
 {top:120,zero:457,bottom:462,wc:67,w:wave1,wb:wave1b,g:call1Gray,c:[call1Blue,call1Purple,call1Red,call1Green],lb:283},
 {top:628,zero:969,bottom:974,wc:562,w:wave2,wb:wave2b,g:call2Gray,c:[call2Blue,call2Purple,call2Red,call2Green],lb:822},
 {top:1110,zero:1451,bottom:1456,wc:1052,w:wave3,wb:wave3b,g:call3Gray,c:[call3Blue,call3Purple,call3Red,call3Green],lb:1290},
 {top:1617,zero:1953,bottom:1958,wc:1542,w:wave4,wb:wave4b,g:call4Gray,c:[call4Blue,call4Purple,call4Red,call4Green],lb:1757},
 {top:2123,zero:2459,bottom:2464,wc:2047,w:wave5,wb:wave5b,g:call5Gray,c:[call5Blue,call5Purple,call5Red,call5Green],lb:2249}
];
const colored=['#0070c0','#7030a0','#c00000','#00b050'];
const GRAY='#bfbfbf';
const FONT='"Liberation Sans",Arial,sans-serif';
const root=document.getElementById('root');
Chart.defaults.font.family=FONT;
const pts=f=>{const o=[];for(let i=0;i<f.length;i+=2)o.push({x:f[i],y:f[i+1]});return o;};
function mk(top,h){const c=document.createElement('canvas');c.width=1126;c.height=h;c.style.top=top+'px';c.style.width='1126px';c.style.height=h+'px';root.appendChild(c);return c;}
const curve=(f,col,w)=>({data:pts(f),borderColor:col,borderWidth:w,pointRadius:0,tension:0.4,borderCapStyle:'round',borderJoinStyle:'round',clip:0,fill:false});
const comb=(a,off)=>({data:a.map((v,k)=>({x:k+off,y:v})),borderColor:'#000',backgroundColor:'#000',borderWidth:1.4,pointRadius:0,tension:0,fill:{value:0},clip:0});

const arrowPlugin={id:'arrow',afterDraw(ch){
  const x=ch.scales.x.getPixelForValue(onsetTime),c=ch.ctx,o=2123;
  c.save();c.fillStyle='#808080';c.strokeStyle='#808080';c.lineWidth=2.5;
  c.beginPath();c.moveTo(x,2533-o);c.lineTo(x,2500-o);c.stroke();
  c.beginPath();c.moveTo(x,2480-o);c.lineTo(x-13,2507-o);c.lineTo(x+13,2507-o);c.closePath();c.fill();
  c.restore();}};

panels.forEach((p,i)=>{
  const wh=130;
  new Chart(mk(p.wc-wh/2,wh),{type:'line',
    data:{datasets:[comb(p.w,0),comb(p.wb,.5)]},
    options:{responsive:false,animation:false,layout:{padding:{left:187,right:41,top:0,bottom:0}},
      plugins:{legend:{display:false},tooltip:{enabled:false}},
      scales:{x:{type:'linear',display:false,min:-10,max:190},y:{display:false,min:-65,max:65}}}});
  const last=i===panels.length-1;
  const span=p.zero-p.top-2;
  const yMax=1+2/span,yMin=-(p.bottom-p.zero)/span;
  const ds=p.c.map((f,k)=>curve(f,colored[k],9))
     .concat(p.g.map(f=>curve(f,GRAY,4.5)))
     .concat([curve(floorLine,GRAY,8)]);
  const h=last?2630-p.top:p.bottom-p.top;
  new Chart(mk(p.top,h),{type:'line',data:{datasets:ds},
    plugins:last?[arrowPlugin]:[],
    options:{responsive:false,animation:false,layout:{padding:{left:187,right:41,top:0,bottom:0}},
      plugins:{legend:{display:false},tooltip:{enabled:false}},
      scales:{
        y:{display:false,min:yMin,max:yMax},
        x:{type:'linear',display:last,min:-10,max:190,
           afterFit(s){if(last)s.height=2630-p.bottom;},
           border:{display:true,color:'#000',width:3.5},
           grid:{drawOnChartArea:false,drawTicks:true,tickLength:22,tickWidth:4,tickColor:'#000'},
           ticks:{stepSize:20,autoSkip:false,maxRotation:0,minRotation:0,color:'#000',padding:3,
                  font:{size:43,lineHeight:1},
                  callback:(v,k)=>xTickLabels[k]},
           title:{display:true,text:xTitle,color:'#000',font:{size:55,lineHeight:1},padding:{top:0,bottom:29}}
        }}}});
  const d=document.createElement('div');d.className='t call';d.textContent=callNames[i];
  d.style.top=(p.lb-0.8465*62)+'px';root.appendChild(d);
});
[2567,2622].forEach((b,i)=>{const d=document.createElement('div');d.className='t onset';d.textContent=onsetLines[i];d.style.top=(b-0.8465*46)+'px';root.appendChild(d);});
</script>
</body></html>
